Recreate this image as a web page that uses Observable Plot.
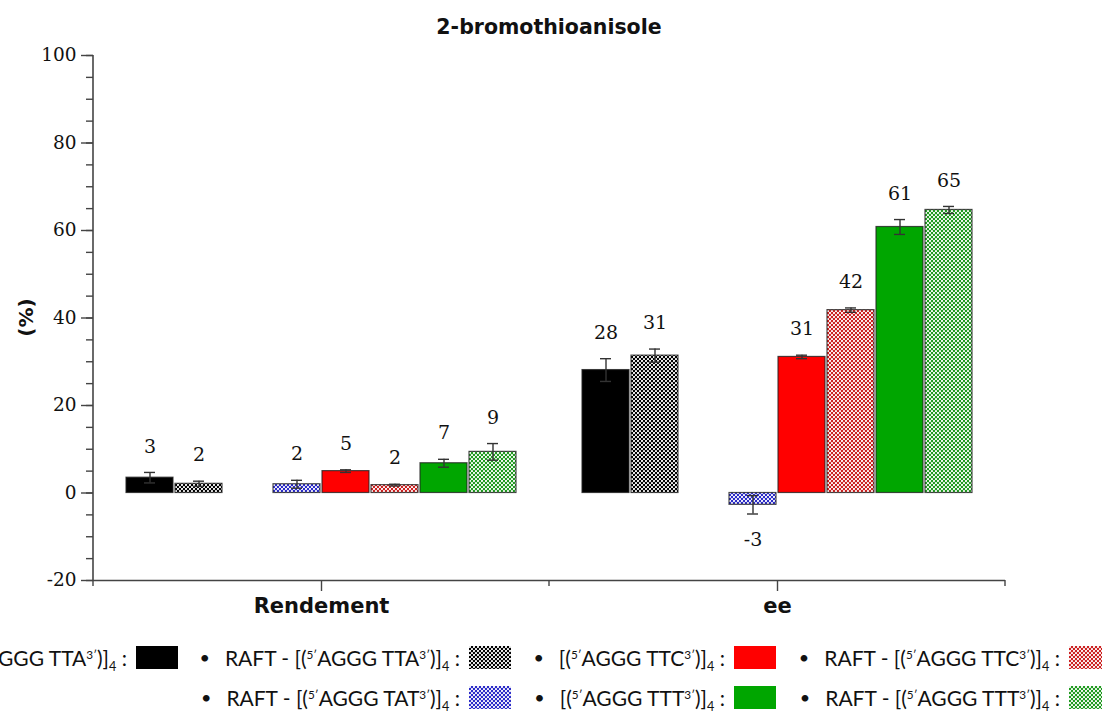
<!DOCTYPE html>
<html><head><meta charset="utf-8">
<script src="https://cdn.jsdelivr.net/npm/d3@7"></script>
<script src="https://cdn.jsdelivr.net/npm/@observablehq/plot@0.6"></script>
<style>
html,body{margin:0;padding:0;background:#fff;}
#wrap{position:relative;width:1102px;height:711px;overflow:hidden;background:#fff;}
#chart{position:absolute;left:0;top:0;}
.leg{position:absolute;display:flex;align-items:center;white-space:nowrap;font-family:Lato,"Open Sans",sans-serif;font-size:21px;color:#111;height:24px;}
.leg .b{margin-right:15px;font-size:18px;}
.leg sup{font-size:0.56em;vertical-align:0.62em;line-height:0;}
.leg sub{font-size:0.6em;vertical-align:-0.42em;line-height:0;}
.leg svg{margin-left:9px;flex:none;}
</style></head>
<body><div id="wrap"><div id="chart"></div></div>
<script>
// ---- data ----
const groups = ["Rendement", "ee"];
const seriesKeys = ["TTA", "RAFT-TTA", "TAT", "RAFT-TAT", "TTC", "RAFT-TTC", "TTT", "RAFT-TTT"];
const seriesSeq = ["TTA", "TTA", "TAT", "TAT", "TTC", "TTC", "TTT", "TTT"];
const seriesRaft = [false, true, false, true, false, true, false, true];
const seriesColor = ["#000000", "#000000", "#2020c0", "#2a2ac8", "#ff0000", "#cc2020", "#00a600", "#1f9a1f"];
const seriesPatterned = [false, true, false, true, false, true, false, true];

const rendementValues = [3.5, 2.1, null, 2.0, 5.0, 1.8, 6.8, 9.4];
const rendementErrors = [1.2, 0.6, null, 0.9, 0.3, 0.2, 0.9, 1.9];
const rendementLabels = ["3", "2", null, "2", "5", "2", "7", "9"];

const eeValues = [28.1, 31.4, null, -2.7, 31.1, 41.8, 60.8, 64.7];
const eeErrors = [2.6, 1.5, null, 2.1, 0.4, 0.5, 1.7, 0.8];
const eeLabels = ["28", "31", null, "-3", "31", "42", "61", "65"];

const yMajorTicks = [-20, 0, 20, 40, 60, 80, 100];
const yMinorTicks = [-20, -15, -10, -5, 0, 5, 10, 15, 20, 25, 30, 35, 40, 45, 50, 55, 60, 65, 70, 75, 80, 85, 90, 95, 100];

const titleText = "2-bromothioanisole";
const yLabelText = "(%)";

// legend layout (which series, row, right edge of swatch)
const legendLayout = [
  {i: 0, row: 0, right: 178}, {i: 1, row: 0, right: 511}, {i: 4, row: 0, right: 776}, {i: 5, row: 0, right: 1111},
  {i: 3, row: 1, right: 511}, {i: 6, row: 1, right: 776}, {i: 7, row: 1, right: 1111}
];
const legendRowTop = [645, 685];

// ---- build rows ----
const fillFor = i => seriesPatterned[i] ? `url(#pat-${i})` : seriesColor[i];
const rows = [];
[[rendementValues, rendementErrors, rendementLabels], [eeValues, eeErrors, eeLabels]].forEach(([vals, errs, labs], gi) => {
  seriesKeys.forEach((s, i) => {
    if (vals[i] == null) return;
    rows.push({group: groups[gi], series: s, value: vals[i], err: errs[i], label: labs[i], fill: fillFor(i)});
  });
});
const pos = rows.filter(d => d.value >= 0);
const neg = rows.filter(d => d.value < 0);

const chart = Plot.plot({
  width: 1102, height: 632,
  marginLeft: 92, marginRight: 97, marginTop: 55, marginBottom: 52,
  style: {fontFamily: "DejaVu Serif", fontSize: "18px", color: "#111", background: "transparent"},
  fx: {domain: groups, padding: 0, label: null},
  x: {domain: seriesKeys, paddingInner: 0.05, paddingOuter: 0.59, axis: null},
  y: {domain: [-20, 100], label: null},
  color: {type: "identity"},
  marks: [
    Plot.ruleY([-20], {stroke: "#444", strokeWidth: 1.6}),
    Plot.axisY(yMinorTicks, {tickSize: 7, tickFormat: () => "", stroke: "#444", strokeWidth: 1.4, label: null}),
    Plot.axisY(yMajorTicks, {tickSize: 12, tickPadding: 5, tickFormat: d => String(d), stroke: "#444", strokeWidth: 1.4, label: null, fontSize: 18.5, fill: "#111"}),
    Plot.axisFx({anchor: "bottom", tickSize: 11, tickPadding: 7, label: null, stroke: "#444", strokeWidth: 1.4, fontFamily: "DejaVu Sans", fontWeight: "bold", fontSize: 21, fill: "#111"}),
    Plot.barY(rows, {fx: "group", x: "series", y: "value", fill: "fill", stroke: "#222", strokeOpacity: 0.8, strokeWidth: 1.2}),
    Plot.ruleX(rows, {fx: "group", x: "series", y1: d => d.value - d.err, y2: d => d.value + d.err, stroke: "#333", strokeWidth: 1.4}),
    Plot.tickY(rows, {fx: "group", x: "series", y: d => d.value + d.err, insetLeft: 18, insetRight: 18, stroke: "#333", strokeWidth: 1.4}),
    Plot.tickY(rows, {fx: "group", x: "series", y: d => d.value - d.err, insetLeft: 18, insetRight: 18, stroke: "#333", strokeWidth: 1.4}),
    Plot.text(pos, {fx: "group", x: "series", y: d => d.value + d.err, text: "label", dy: -26, fontSize: 19, fill: "#111"}),
    Plot.text(neg, {fx: "group", x: "series", y: d => d.value - d.err, text: "label", dy: 26, fontSize: 19, fill: "#111"})
  ]
});

// patterns
const svg = d3.select(chart);
const defs = svg.insert("defs", ":first-child");
seriesKeys.forEach((s, i) => {
  if (!seriesPatterned[i]) return;
  const p = defs.append("pattern").attr("id", `pat-${i}`).attr("patternUnits", "userSpaceOnUse")
    .attr("width", 4).attr("height", 4);
  p.append("rect").attr("width", 4).attr("height", 4).attr("fill", seriesColor[i]);
  p.append("circle").attr("cx", 1).attr("cy", 1).attr("r", 1.1).attr("fill", "#fff");
  p.append("circle").attr("cx", 3).attr("cy", 3).attr("r", 1.1).attr("fill", "#fff");
});

// axis line, boundary ticks, title, y label (positions from the plot's scales)
const y = chart.scale("y"), fx = chart.scale("fx");
const left = fx.apply(groups[0]);
const bw = fx.bandwidth;
svg.append("line").attr("x1", left).attr("x2", left).attr("y1", y.apply(100)).attr("y2", y.apply(-20))
  .attr("stroke", "#444").attr("stroke-width", 1.6);
[left, left + bw, left + 2 * bw].forEach(xv => {
  svg.append("line").attr("x1", xv).attr("x2", xv).attr("y1", y.apply(-20)).attr("y2", y.apply(-20) + 6)
    .attr("stroke", "#444").attr("stroke-width", 1.4);
});
svg.append("text").attr("x", left + bw).attr("y", 28).attr("text-anchor", "middle").attr("dominant-baseline", "middle")
  .attr("font-family", "DejaVu Sans").attr("font-weight", "bold").attr("font-size", 20.5).attr("fill", "#111").text(titleText);
svg.append("text").attr("transform", `translate(27,${(y.apply(100) + y.apply(-20)) / 2}) rotate(-90)`)
  .attr("text-anchor", "middle").attr("dominant-baseline", "middle")
  .attr("font-family", "DejaVu Sans").attr("font-weight", "bold").attr("font-size", 20).attr("fill", "#111").text(yLabelText);

document.getElementById("chart").appendChild(chart);

// legend
const wrap = document.getElementById("wrap");
legendLayout.forEach(({i, row, right}) => {
  const div = document.createElement("div");
  div.className = "leg";
  div.style.right = (1102 - right) + "px";
  div.style.top = legendRowTop[row] + "px";
  const prefix = seriesRaft[i] ? "RAFT - " : "";
  div.innerHTML = `<span class="b">•</span><span>${prefix}[(<sup>5′</sup>AGGG ${seriesSeq[i]}<sup>3′</sup>)]<sub>4</sub> :</span>` +
    `<svg width="42" height="23"><rect width="42" height="23" fill="${fillFor(i)}"/></svg>`;
  wrap.appendChild(div);
});
</script>
</body></html>
